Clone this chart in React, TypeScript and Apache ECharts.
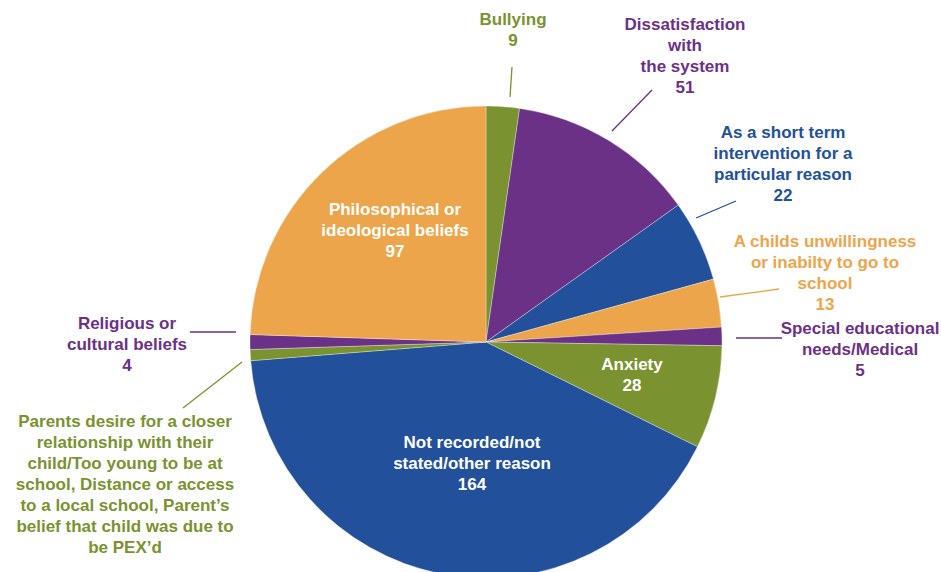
import React, { useEffect, useRef } from "react";
import * as echarts from "echarts";

// Reasons for home education, clockwise from the top of the pie
const reasons = [
  "Bullying",
  "Dissatisfaction\nwith\nthe system",
  "As a short term\nintervention for a\nparticular reason",
  "A childs unwillingness\nor inabilty to go to\nschool",
  "Special educational\nneeds/Medical",
  "Anxiety",
  "Not recorded/not\nstated/other reason",
  "Parents desire for a closer\nrelationship with their\nchild/Too young to be at\nschool, Distance or access\nto a local school, Parent’s\nbelief that child was due to\nbe PEX’d",
  "Religious or\ncultural beliefs",
  "Philosophical or\nideological beliefs",
];
const counts = [9, 51, 22, 13, 5, 28, 164, 3, 4, 97];
const showCount = [true, true, true, true, true, true, true, false, true, true];

const ORANGE = "#eca54a";
const GREEN = "#7a922f";
const PURPLE = "#6b3186";
const BLUE = "#22509b";
const sliceColors = [GREEN, PURPLE, BLUE, ORANGE, PURPLE, GREEN, BLUE, GREEN, PURPLE, ORANGE];
const insideLabel = [false, false, false, false, false, true, true, false, false, true];

// Label anchors (centre of each text block) and leader lines, in pixels
const labelPlace: { x: number; y: number; line?: number[][] }[] = [
  { x: 513, y: 30, line: [[510, 97], [512, 67]] },
  { x: 685, y: 56, line: [[612, 131], [652, 90]] },
  { x: 783, y: 164, line: [[696, 218], [736, 201]] },
  { x: 825, y: 273, line: [[720, 297], [779, 289]] },
  { x: 860, y: 349, line: [[736, 338], [782, 338]] },
  { x: 632, y: 375 },
  { x: 472, y: 463 },
  { x: 125, y: 484, line: [[242, 362], [183, 408]] },
  { x: 127, y: 344, line: [[236, 332], [190, 332]] },
  { x: 395, y: 230 },
];

export default function App() {
  const ref = useRef<HTMLDivElement>(null);

  useEffect(() => {
    document.body.style.margin = "0";
    if (!ref.current) return;
    const chart = echarts.init(ref.current, null, { renderer: "svg" });

    const data = reasons.map((name, i) => ({
      name,
      value: counts[i],
      itemStyle: { color: sliceColors[i] },
      label: {
        position: insideLabel[i] ? "inside" : "outside",
        color: insideLabel[i] ? "#ffffff" : sliceColors[i],
        formatter: showCount[i] ? "{b}\n{c}" : "{b}",
      },
      labelLine: { show: !insideLabel[i] },
    }));

    chart.setOption({
      animation: false,
      backgroundColor: "#ffffff",
      series: [
        {
          type: "pie",
          center: [486, 342],
          radius: 236,
          startAngle: 90,
          clockwise: true,
          avoidLabelOverlap: false,
          itemStyle: { borderColor: "rgba(255,255,255,0.55)", borderWidth: 0.6 },
          label: {
            show: true,
            fontFamily: "Liberation Sans, Arial, sans-serif",
            fontWeight: "bold",
            fontSize: 17,
            lineHeight: 21,
            align: "center",
          },
          labelLine: { show: true, lineStyle: { width: 1.3 } },
          labelLayout: (params: any) => {
            const p = labelPlace[params.dataIndex];
            const out: any = {
              x: p.x,
              y: p.y,
              align: "center",
              verticalAlign: "middle",
            };
            if (p.line) {
              out.labelLinePoints = [p.line[0], p.line[1], p.line[1]];
            }
            return out;
          },
          data,
        },
      ],
    });

    return () => chart.dispose();
  }, []);

  return <div ref={ref} style={{ width: 941, height: 572 }} />;
}
